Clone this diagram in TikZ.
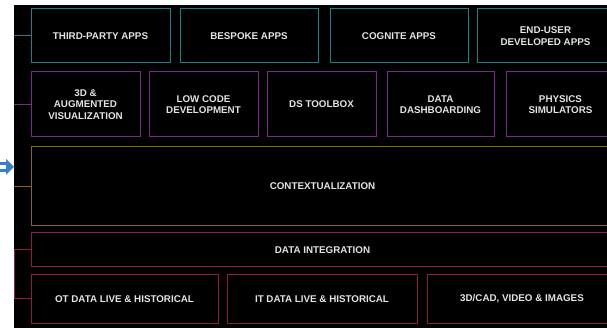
\documentclass[tikz,border=0pt]{standalone}
\usepackage{fontspec}
\setmainfont{Liberation Sans}
\usetikzlibrary{arrows.meta}
\definecolor{appteal}{HTML}{1E7F88}
\definecolor{toolpurple}{HTML}{7C2C8C}
\definecolor{ctxgold}{HTML}{8C6A12}
\definecolor{datared}{HTML}{8E1B4C}
\definecolor{labelgray}{HTML}{E4E4E4}
\definecolor{arrowblue}{HTML}{3A7FC4}
\begin{document}
\begin{tikzpicture}[x=1pt,y=-1pt,
  layer/.style={line width=1pt,inner sep=0pt,align=center,text=labelgray,
    font=\bfseries\fontsize{9.8}{11.5}\selectfont},
  app/.style={layer,draw=appteal,minimum height=54pt},
  tool/.style={layer,draw=toolpurple,minimum height=65pt},
  src/.style={layer,draw=datared,minimum height=48pt}]
 \useasboundingbox (0,0) rectangle (607,328);
 \fill[white] (0,0) rectangle (607,328);
 \fill[black] (14,5) rectangle (607,328);
 \begin{scope}
 \clip (14,5) rectangle (607,328);
 % applications
 \node[app,minimum width=139pt] (third) at (100.5,36) {THIRD-PARTY APPS};
 \node[app,minimum width=138pt] (bespoke) at (249,36) {BESPOKE APPS};
 \node[app,minimum width=138pt] (cognite) at (399,36) {COGNITE APPS};
 \node[app,minimum width=137pt] (enduser) at (545.5,36) {END-USER\\DEVELOPED APPS};
 % tools
 \node[tool,minimum width=109pt] (viz) at (85.5,104.5) {3D \&\\AUGMENTED\\VISUALIZATION};
 \node[tool,minimum width=109pt] (lowcode) at (203.5,104.5) {LOW CODE\\DEVELOPMENT};
 \node[tool,minimum width=109pt] (dstool) at (321.5,104.5) {DS TOOLBOX};
 \node[tool,minimum width=107pt] (dash) at (440.5,104.5) {DATA\\DASHBOARDING};
 \node[tool,minimum width=109pt] (phys) at (560.5,104.5) {PHYSICS\\SIMULATORS};
 % context
 \node[layer,draw=ctxgold,minimum width=583pt,minimum height=79pt] (ctx) at (322.5,186.5) {CONTEXTUALIZATION};
 % data
 \node[layer,draw=datared,minimum width=583pt,minimum height=34pt] (integ) at (322.5,250) {DATA INTEGRATION};
 \node[src,minimum width=187pt] (otdata) at (124.5,299) {OT DATA LIVE \& HISTORICAL};
 \node[src,minimum width=190pt] (itdata) at (322,299) {IT DATA LIVE \& HISTORICAL};
 \node[src,minimum width=190pt] (media) at (522,299) {3D/CAD, VIDEO \& IMAGES};
 \end{scope}
 % side links
 \coordinate (appin) at (14,36);
 \coordinate (toolin) at (14,104.5);
 \coordinate (ctxin) at (14,186.5);
 \draw[appteal,line width=1pt] (appin) -- (third.west);
 \draw[toolpurple,line width=1pt] (toolin) -- (viz.west);
 \draw[ctxgold,line width=1pt] (ctxin) -- (ctx.west);
 \draw[datared,line width=1pt] (integ.west) -- ++(-16.5,0) |- (otdata.west);
 % pointer
 \fill[arrowblue] (6,159) -- (14,167) -- (6,175) -- cycle;
 \fill[arrowblue] (0,162) rectangle (7,165);
 \fill[arrowblue] (0,169) rectangle (7,172);
\end{tikzpicture}
\end{document}
